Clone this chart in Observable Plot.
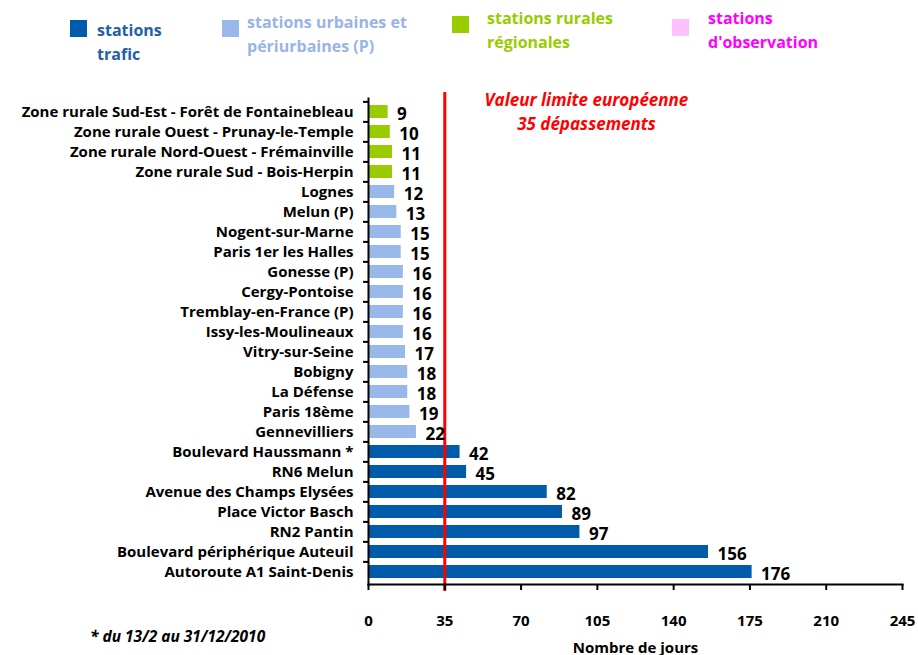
<!DOCTYPE html>
<html><head><meta charset="utf-8">
<script src="https://cdn.jsdelivr.net/npm/d3@7"></script>
<script src="https://cdn.jsdelivr.net/npm/@observablehq/plot@0.6"></script>
<style>
body{margin:0;background:#fff;font-family:"Open Sans",sans-serif;}
#wrap{position:relative;width:918px;height:655px;overflow:hidden;}
#legend{position:absolute;left:0;top:0;width:918px;height:80px;}
.key{position:absolute;width:17px;height:17px;}
.lt{position:absolute;font-weight:bold;font-size:16px;line-height:24px;white-space:nowrap;}
#chart{position:absolute;left:0;top:80px;}
#note{position:absolute;left:90px;top:625px;font-weight:bold;font-style:italic;font-size:15.5px;white-space:nowrap;}
</style></head><body>
<div id="wrap"><div id="legend"></div><div id="chart"></div><div id="note"></div></div>
<script>
const stations = [
  "Zone rurale Sud-Est - Forêt de Fontainebleau",
  "Zone rurale Ouest - Prunay-le-Temple",
  "Zone rurale Nord-Ouest - Frémainville",
  "Zone rurale Sud - Bois-Herpin",
  "Lognes",
  "Melun (P)",
  "Nogent-sur-Marne",
  "Paris 1er les Halles",
  "Gonesse (P)",
  "Cergy-Pontoise",
  "Tremblay-en-France (P)",
  "Issy-les-Moulineaux",
  "Vitry-sur-Seine",
  "Bobigny",
  "La Défense",
  "Paris 18ème",
  "Gennevilliers",
  "Boulevard Haussmann *",
  "RN6 Melun",
  "Avenue des Champs Elysées",
  "Place Victor Basch",
  "RN2 Pantin",
  "Boulevard périphérique Auteuil",
  "Autoroute A1 Saint-Denis"
];
const values = [9, 10, 11, 11, 12, 13, 15, 15, 16, 16, 16, 16, 17, 18, 18, 19, 22, 42, 45, 82, 89, 97, 156, 176];
const types = [
  "rurale","rurale","rurale","rurale",
  "urbaine","urbaine","urbaine","urbaine","urbaine","urbaine","urbaine","urbaine","urbaine","urbaine","urbaine","urbaine","urbaine",
  "trafic","trafic","trafic","trafic","trafic","trafic","trafic"
];
const typeNames = ["trafic", "urbaine", "rurale", "observation"];
const typeColors = ["#005BAA", "#99B8EA", "#99CC00", "#FFC0FF"];
const legendLabels = [["stations", "trafic"], ["stations urbaines et", "périurbaines (P)"], ["stations rurales", "régionales"], ["stations", "d'observation"]];
const legendTextColors = ["#1F5FA8", "#99B4E6", "#99CC00", "#FF00FF"];
const xTicks = [0, 35, 70, 105, 140, 175, 210, 245];
const limitValue = 35;
const annotationLines = ["Valeur limite européenne", "35 dépassements"];
const annotationX = 100;
const footnote = "* du 13/2 au 31/12/2010";
const xLabel = "Nombre de jours";

// Legend layout
const keyLeft = [70, 222, 452, 672], keyTop = [20, 20, 16, 19];
const textLeft = [97, 247, 487, 708], textTop = [18, 10, 6, 6];
const legend = document.getElementById("legend");
typeNames.forEach((t, i) => {
  const k = document.createElement("div");
  k.className = "key";
  k.style.left = keyLeft[i] + "px"; k.style.top = keyTop[i] + "px";
  k.style.background = typeColors[i];
  legend.appendChild(k);
  const tx = document.createElement("div");
  tx.className = "lt";
  tx.style.left = textLeft[i] + "px"; tx.style.top = textTop[i] + "px";
  tx.style.color = legendTextColors[i];
  tx.innerHTML = legendLabels[i].join("<br>");
  legend.appendChild(tx);
});
document.getElementById("note").textContent = footnote;

const data = stations.map((s, i) => ({station: s, value: values[i], type: types[i]}));
const W = 918, H = 575, mT = 18, mB = 71, mL = 368, mR = 16;
const step = (H - mT - mB) / stations.length;

const plot = Plot.plot({
  width: W, height: H, marginTop: mT, marginBottom: mB, marginLeft: mL, marginRight: mR,
  style: {fontFamily: "'Open Sans', sans-serif", fontWeight: "bold", color: "#000", background: "white", overflow: "visible"},
  x: {domain: [0, 245], ticks: xTicks},
  y: {domain: stations, paddingInner: 0.35, paddingOuter: 0.175},
  color: {domain: typeNames, range: typeColors},
  marks: [
    Plot.barX(data, {x: "value", y: "station", fill: "type"}),
    Plot.ruleX([limitValue], {stroke: "#FF0000", strokeWidth: 3, insetTop: -6, insetBottom: -7}),
    Plot.text(data, {x: "value", y: "station", text: d => String(d.value), textAnchor: "start", dx: 9, dy: 3, fontSize: 17, fontWeight: "bold", fill: "#000"}),
    Plot.frame({anchor: "left", stroke: "#000", strokeWidth: 2}),
    Plot.frame({anchor: "bottom", stroke: "#000", strokeWidth: 2}),
    Plot.axisY({tickSize: 0, tickPadding: 15, fontSize: 15, label: null}),
    Plot.axisY({tickSize: 5, tickFormat: () => "", dy: -step / 2, label: null, strokeWidth: 2}),
    Plot.axisX({ticks: xTicks, tickSize: 6, tickPadding: 25, fontSize: 15, strokeWidth: 2,
      label: xLabel, labelAnchor: "center", labelArrow: "none", labelOffset: 68}),
    Plot.text([annotationLines.join("\n")], {x: () => annotationX, frameAnchor: "top", lineAnchor: "middle", dy: 11.5, lineHeight: 1.45,
      fill: "#FF0000", fontStyle: "italic", fontWeight: "bold", fontSize: 17})
  ]
});
document.getElementById("chart").appendChild(plot);
</script>
</body></html>
